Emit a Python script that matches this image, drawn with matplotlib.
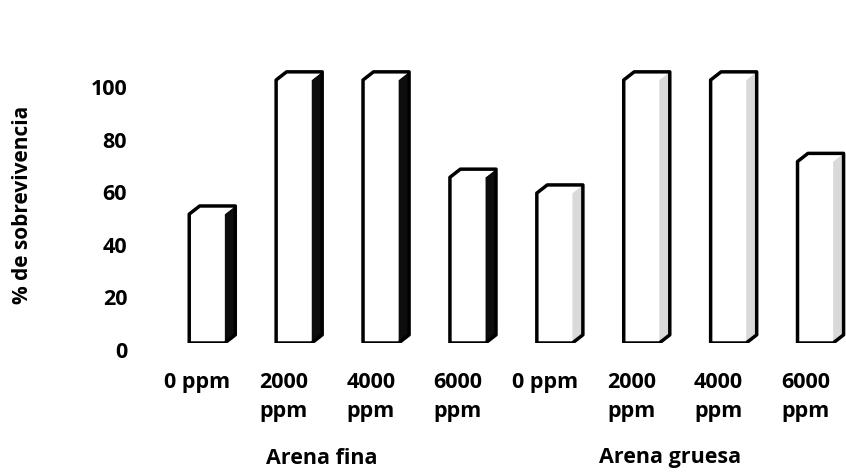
import matplotlib
matplotlib.use("Agg")
import matplotlib.pyplot as plt
from matplotlib.patches import Polygon
import matplotlib.transforms as mtransforms
import numpy as np

# Survival (%) per dose, for each sand type
doses = ["0 ppm", "2000\nppm", "4000\nppm", "6000\nppm"]
groups = ["Arena fina", "Arena gruesa"]
arena_fina = [49, 100, 100, 63]
arena_gruesa = [57, 100, 100, 69]
y_ticks = [0, 20, 40, 60, 80, 100]
side_colors = ["#0d0d0d", "#d9d9d9"]

plt.rcParams["font.family"] = ["Open Sans", "DejaVu Sans"]
plt.rcParams["font.weight"] = "bold"

fig = plt.figure(figsize=(8.46, 4.75), dpi=100)
W, H = 846, 475
ax_left, ax_right = 153.6, 848.8
ax_bottom_px, px_per_unit = 343.0, 2.63
ymax = 110
ax = fig.add_axes([ax_left / W, 1 - ax_bottom_px / H,
                   (ax_right - ax_left) / W, ymax * px_per_unit / H])
ax.set_xlim(-0.5, 7.5)
ax.set_ylim(0, ymax)

values = arena_fina + arena_gruesa
labels = doses + doses
x = np.arange(len(values))

# box geometry (front face + depth)
front_w = 0.41
front_shift = 0.115
dx = 0.12
dy = 3.1
lw = 2.5

bars = ax.bar(x + front_shift, values, width=front_w, color="white",
              edgecolor="none", zorder=2)

for i, b in enumerate(bars):
    x0 = b.get_x()
    x1 = x0 + b.get_width()
    h = b.get_height()
    side_c = side_colors[i // len(doses)]
    # right side face
    ax.add_patch(Polygon([(x1, 0), (x1 + dx, dy), (x1 + dx, h + dy), (x1, h)],
                         closed=True, facecolor=side_c, edgecolor="none",
                         zorder=3))
    # top face
    ax.add_patch(Polygon([(x0, h), (x1, h), (x1 + dx, h + dy), (x0 + dx, h + dy)],
                         closed=True, facecolor="white", edgecolor="none",
                         zorder=3))
    # silhouette outline
    ax.add_patch(Polygon([(x0, 0), (x1, 0), (x1 + dx, dy), (x1 + dx, h + dy),
                          (x0 + dx, h + dy), (x0, h)],
                         closed=True, facecolor="none", edgecolor="black",
                         linewidth=lw, joinstyle="round", zorder=4))

# axes styling
for s in ax.spines.values():
    s.set_visible(False)
ax.set_xticks(x)
ax.set_xticklabels(labels, fontsize=15.5, fontweight="bold", linespacing=1.5)
ax.tick_params(axis="x", length=0, pad=21)
ax.set_yticks(y_ticks)
ax.set_yticklabels([str(v) for v in y_ticks], fontsize=15.5, fontweight="bold")
ax.tick_params(axis="y", length=0, pad=19)
shift = mtransforms.ScaledTranslation(0, -5 / 72, fig.dpi_scale_trans)
for t in ax.get_yticklabels():
    t.set_transform(t.get_transform() + shift)

# group captions under the dose labels
trans = mtransforms.blended_transform_factory(ax.transData, fig.transFigure)
n = len(doses)
for g, name in enumerate(groups):
    xc = g * n + (n - 1) / 2 - 0.06
    ax.text(xc, 1 - 458 / H, name, transform=trans, ha="center", va="center",
            fontsize=15.5, fontweight="bold")

fig.text(23 / W, 1 - 205 / H, "% de sobrevivencia", rotation=90,
         ha="center", va="center", fontsize=15, fontweight="bold")

fig.savefig("out.png", dpi=100)
